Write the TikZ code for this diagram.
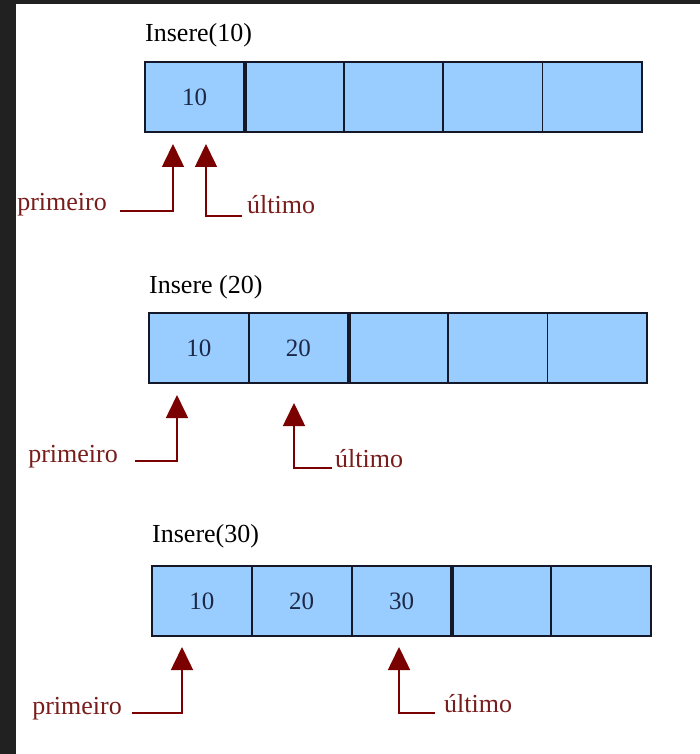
\documentclass[tikz,border=0pt]{standalone}
\usepackage{fontspec}
\setmainfont{Liberation Serif}
\usetikzlibrary{arrows.meta}
\definecolor{cellfill}{RGB}{153,204,255}
\definecolor{cellline}{RGB}{20,24,40}
\definecolor{ptrred}{RGB}{123,0,0}
\definecolor{lblred}{RGB}{120,28,28}
\definecolor{numcol}{RGB}{28,40,70}
\definecolor{framecol}{RGB}{33,33,33}
\begin{document}
\begin{tikzpicture}[x=1pt,y=-1pt,
 cell/.style={draw=cellline,fill=cellfill,line width=1.8pt,minimum width=99.6pt,minimum height=70pt,inner sep=0pt,font=\fontsize{25}{25}\selectfont,text=numcol},
 title/.style={anchor=base west,font=\fontsize{26}{26}\selectfont,text=black,inner sep=0pt},
 lbl/.style={font=\fontsize{26}{26}\selectfont,text=lblred,inner sep=0pt},
 ptr/.style={draw=ptrred,line width=1.6pt,-{Triangle[width=22pt,length=23pt]},color=ptrred},
 endbar/.style={line width=3.2pt,draw=cellline}]
\useasboundingbox (0,0) rectangle (700,754);
\fill[white] (0,0) rectangle (700,754);

% Row 1
\node[title] (t1) at (145,42) {Insere(10)};
\foreach \i/\t in {1/10,2/,3/,4/,5/}
  \node[cell] (r1c\i) at ({145+(\i-0.5)*99.4},97) {\t};
\draw[endbar] (r1c1.north east) -- (r1c1.south east);
\node[lbl,anchor=base east] (p1) at (107,210) {primeiro};
\node[lbl,anchor=base west] (u1) at (247,213) {último};
\coordinate (p1s) at (120,211);
\coordinate (p1t) at (173,144);
\coordinate (u1s) at (242,216);
\coordinate (u1t) at (206,144);
\draw[ptr] (p1s) -| (p1t);
\draw[ptr] (u1s) -| (u1t);

% Row 2
\node[title] (t2) at (149,293) {Insere (20)};
\foreach \i/\t in {1/10,2/20,3/,4/,5/}
  \node[cell] (r2c\i) at ({149+(\i-0.5)*99.6},348) {\t};
\draw[endbar] (r2c2.north east) -- (r2c2.south east);
\node[lbl,anchor=base east] (p2) at (118,462) {primeiro};
\node[lbl,anchor=base west] (u2) at (335,467) {último};
\coordinate (p2s) at (135,461);
\coordinate (p2t) at (177,395);
\coordinate (u2s) at (332,468);
\coordinate (u2t) at (294,403);
\draw[ptr] (p2s) -| (p2t);
\draw[ptr] (u2s) -| (u2t);

% Row 3
\node[title] (t3) at (152,542) {Insere(30)};
\foreach \i/\t in {1/10,2/20,3/30,4/,5/}
  \node[cell] (r3c\i) at ({152+(\i-0.5)*99.8},601) {\t};
\draw[endbar] (r3c3.north east) -- (r3c3.south east);
\node[lbl,anchor=base east] (p3) at (122,714) {primeiro};
\node[lbl,anchor=base west] (u3) at (444,712) {último};
\coordinate (p3s) at (132,713);
\coordinate (p3t) at (182,647);
\coordinate (u3s) at (435,713);
\coordinate (u3t) at (399,647);
\draw[ptr] (p3s) -| (p3t);
\draw[ptr] (u3s) -| (u3t);

% dark frame of the screenshot
\fill[framecol] (0,0) rectangle (700,4);
\fill[framecol] (0,0) rectangle (16,754);
\end{tikzpicture}
\end{document}
